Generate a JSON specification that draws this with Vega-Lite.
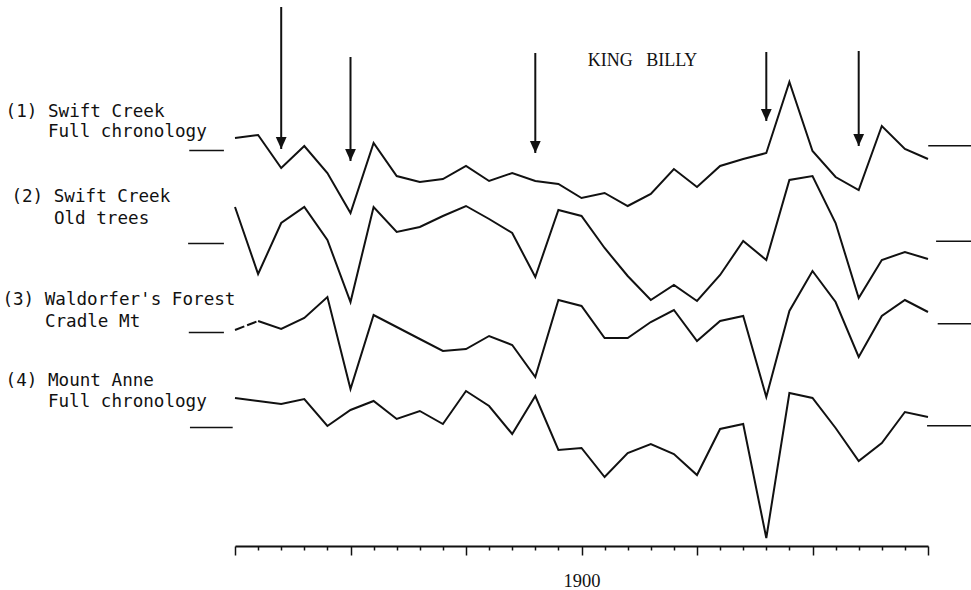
{
  "$schema": "https://vega.github.io/schema/vega-lite/v6.json",
  "width": 693,
  "height": 546,
  "autosize": {"type": "none"},
  "padding": {"left": 235, "top": 0, "right": 43, "bottom": 44},
  "background": "white",
  "config": {"view": {"stroke": null}, "text": {"font": "DejaVu Sans Mono", "fontSize": 17.6, "align": "left", "baseline": "alphabetic", "color": "#111"}},
  "datasets": {
    "one": [{}],
    "s1": [
      {"year": 1885, "index": 1.0625}, {"year": 1886, "index": 1.0775}, {"year": 1887, "index": 0.9125}, {"year": 1888, "index": 1.0225}, {"year": 1889, "index": 0.8875}, {"year": 1890, "index": 0.6875}, {"year": 1891, "index": 1.0375}, {"year": 1892, "index": 0.8725}, {"year": 1893, "index": 0.8425}, {"year": 1894, "index": 0.8575}, {"year": 1895, "index": 0.9225}, {"year": 1896, "index": 0.8475}, {"year": 1897, "index": 0.8875}, {"year": 1898, "index": 0.8475}, {"year": 1899, "index": 0.8325}, {"year": 1900, "index": 0.7625}, {"year": 1901, "index": 0.7875}, {"year": 1902, "index": 0.7225}, {"year": 1903, "index": 0.7825}, {"year": 1904, "index": 0.9075}, {"year": 1905, "index": 0.8175}, {"year": 1906, "index": 0.9225}, {"year": 1907, "index": 0.9575}, {"year": 1908, "index": 0.9875}, {"year": 1909, "index": 1.3425}, {"year": 1910, "index": 0.9975}, {"year": 1911, "index": 0.8675}, {"year": 1912, "index": 0.8025}, {"year": 1913, "index": 1.1225}, {"year": 1914, "index": 1.0075}, {"year": 1915, "index": 0.9575}
    ],
    "s2": [
      {"year": 1885, "index": 1.1825}, {"year": 1886, "index": 0.8475}, {"year": 1887, "index": 1.1025}, {"year": 1888, "index": 1.1825}, {"year": 1889, "index": 1.0175}, {"year": 1890, "index": 0.7075}, {"year": 1891, "index": 1.1825}, {"year": 1892, "index": 1.0575}, {"year": 1893, "index": 1.0825}, {"year": 1894, "index": 1.1375}, {"year": 1895, "index": 1.1875}, {"year": 1896, "index": 1.1225}, {"year": 1897, "index": 1.0525}, {"year": 1898, "index": 0.8325}, {"year": 1899, "index": 1.1675}, {"year": 1900, "index": 1.1375}, {"year": 1901, "index": 0.9775}, {"year": 1902, "index": 0.8375}, {"year": 1903, "index": 0.7175}, {"year": 1904, "index": 0.7925}, {"year": 1905, "index": 0.7125}, {"year": 1906, "index": 0.8425}, {"year": 1907, "index": 1.0125}, {"year": 1908, "index": 0.9175}, {"year": 1909, "index": 1.3175}, {"year": 1910, "index": 1.3375}, {"year": 1911, "index": 1.1025}, {"year": 1912, "index": 0.7275}, {"year": 1913, "index": 0.9175}, {"year": 1914, "index": 0.9575}, {"year": 1915, "index": 0.9225}
    ],
    "s3": [
      {"year": 1885, "index": 1.0125}, {"year": 1886, "index": 1.0575}, {"year": 1887, "index": 1.0175}, {"year": 1888, "index": 1.0725}, {"year": 1889, "index": 1.1775}, {"year": 1890, "index": 0.7175}, {"year": 1891, "index": 1.0875}, {"year": 1892, "index": 1.0275}, {"year": 1893, "index": 0.9675}, {"year": 1894, "index": 0.9075}, {"year": 1895, "index": 0.9175}, {"year": 1896, "index": 0.9825}, {"year": 1897, "index": 0.9375}, {"year": 1898, "index": 0.7775}, {"year": 1899, "index": 1.1625}, {"year": 1900, "index": 1.1325}, {"year": 1901, "index": 0.9725}, {"year": 1902, "index": 0.9725}, {"year": 1903, "index": 1.0525}, {"year": 1904, "index": 1.1125}, {"year": 1905, "index": 0.9575}, {"year": 1906, "index": 1.0575}, {"year": 1907, "index": 1.0825}, {"year": 1908, "index": 0.6775}, {"year": 1909, "index": 1.1075}, {"year": 1910, "index": 1.3075}, {"year": 1911, "index": 1.1525}, {"year": 1912, "index": 0.8775}, {"year": 1913, "index": 1.0825}, {"year": 1914, "index": 1.1625}, {"year": 1915, "index": 1.1025}
    ],
    "s4": [
      {"year": 1885, "index": 1.1475}, {"year": 1886, "index": 1.1325}, {"year": 1887, "index": 1.1175}, {"year": 1888, "index": 1.1425}, {"year": 1889, "index": 1.0075}, {"year": 1890, "index": 1.0875}, {"year": 1891, "index": 1.1325}, {"year": 1892, "index": 1.0425}, {"year": 1893, "index": 1.0825}, {"year": 1894, "index": 1.0175}, {"year": 1895, "index": 1.1825}, {"year": 1896, "index": 1.1075}, {"year": 1897, "index": 0.9675}, {"year": 1898, "index": 1.1575}, {"year": 1899, "index": 0.8875}, {"year": 1900, "index": 0.8975}, {"year": 1901, "index": 0.7525}, {"year": 1902, "index": 0.8725}, {"year": 1903, "index": 0.9175}, {"year": 1904, "index": 0.8675}, {"year": 1905, "index": 0.7625}, {"year": 1906, "index": 0.9925}, {"year": 1907, "index": 1.0175}, {"year": 1908, "index": 0.4475}, {"year": 1909, "index": 1.1725}, {"year": 1910, "index": 1.1475}, {"year": 1911, "index": 0.9975}, {"year": 1912, "index": 0.8325}, {"year": 1913, "index": 0.9225}, {"year": 1914, "index": 1.0775}, {"year": 1915, "index": 1.0525}
    ],
    "arrows": [
      {"year": 1887, "top": 1.7175, "tip": 1.0075},
      {"year": 1890, "top": 1.4675, "tip": 0.9475},
      {"year": 1898, "top": 1.4875, "tip": 0.9875},
      {"year": 1908, "top": 1.4925, "tip": 1.1475},
      {"year": 1912, "top": 1.4975, "tip": 1.0225}
    ]
  },
  "layer": [
    {
      "layer": [
        {
          "data": {"name": "s1"},
          "mark": {"type": "line", "color": "#111", "strokeWidth": 2},
          "encoding": {
            "x": {"field": "year", "type": "quantitative", "title": null,
              "scale": {"domain": [1885, 1915], "nice": false, "zero": false},
              "axis": {
                "values": [1885,1886,1887,1888,1889,1890,1891,1892,1893,1894,1895,1896,1897,1898,1899,1900,1901,1902,1903,1904,1905,1906,1907,1908,1909,1910,1911,1912,1913,1914,1915],
                "tickCount": 40,
                "grid": false, "title": null,
                "domainColor": "#111", "domainWidth": 2,
                "tickColor": "#111", "tickWidth": 1.5,
                "tickSize": {"condition": {"test": "datum.value % 5 === 0", "value": 9}, "value": 4},
                "labelExpr": "datum.value === 1900 ? '1900' : ''",
                "labelFont": "Liberation Serif", "labelFontSize": 18.5, "labelColor": "#111",
                "labelPadding": 16, "labelFlush": false, "labelOverlap": false
              }},
            "y": {"field": "index", "type": "quantitative", "axis": null,
              "scale": {"domain": [-0.9775, 1.7525], "nice": false, "zero": false}}
          }
        },
        {
          "data": {"name": "one"},
          "mark": {"type": "rule", "color": "#111", "strokeWidth": 1.5},
          "encoding": {"x": {"datum": 1883.02, "type": "quantitative"}, "x2": {"datum": 1884.52}, "y": {"datum": 1, "type": "quantitative"}}
        },
        {
          "data": {"name": "one"},
          "mark": {"type": "rule", "color": "#111", "strokeWidth": 1.5},
          "encoding": {"x": {"datum": 1915.01, "type": "quantitative"}, "x2": {"datum": 1916.9}, "y": {"datum": 1.024, "type": "quantitative"}}
        },
        {
          "data": {"name": "one"},
          "mark": {"type": "text"},
          "encoding": {"x": {"datum": 1875.07, "type": "quantitative"}, "y": {"datum": 1.169, "type": "quantitative"}, "text": {"value": "(1) Swift Creek"}}
        },
        {
          "data": {"name": "one"},
          "mark": {"type": "text"},
          "encoding": {"x": {"datum": 1876.9, "type": "quantitative"}, "y": {"datum": 1.066, "type": "quantitative"}, "text": {"value": "Full chronology"}}
        },
        {
          "data": {"name": "one"},
          "mark": {"type": "text", "align": "center", "font": "Liberation Serif", "fontSize": 18},
          "encoding": {"x": {"datum": 1902.64, "type": "quantitative"}, "y": {"datum": 1.424, "type": "quantitative"}, "text": {"value": "KING\u00a0\u00a0\u00a0BILLY"}}
        },
        {
          "data": {"name": "arrows"},
          "mark": {"type": "rule", "color": "#111", "strokeWidth": 2},
          "encoding": {"x": {"field": "year", "type": "quantitative", "title": null}, "y": {"field": "top", "type": "quantitative"}, "y2": {"field": "tip"}}
        },
        {
          "data": {"name": "arrows"},
          "mark": {"type": "point", "filled": true, "color": "#111", "opacity": 1, "size": 576, "strokeWidth": 0, "shape": "M-0.45,-1L0.45,-1L0,0Z"},
          "encoding": {"x": {"field": "year", "type": "quantitative", "title": null}, "y": {"field": "tip", "type": "quantitative"}}
        }
      ]
    },
    {
      "layer": [
        {
          "data": {"name": "s2"},
          "mark": {"type": "line", "color": "#111", "strokeWidth": 2},
          "encoding": {
            "x": {"field": "year", "type": "quantitative", "title": null},
            "y": {"field": "index", "type": "quantitative", "axis": null,
              "scale": {"domain": [-0.5125, 2.2175], "nice": false, "zero": false}}
          }
        },
        {
          "data": {"name": "one"},
          "mark": {"type": "rule", "color": "#111", "strokeWidth": 1.5},
          "encoding": {"x": {"datum": 1882.97, "type": "quantitative"}, "x2": {"datum": 1884.52}, "y": {"datum": 1, "type": "quantitative"}}
        },
        {
          "data": {"name": "one"},
          "mark": {"type": "rule", "color": "#111", "strokeWidth": 1.5},
          "encoding": {"x": {"datum": 1915.35, "type": "quantitative"}, "x2": {"datum": 1916.9}, "y": {"datum": 1.011, "type": "quantitative"}}
        },
        {
          "data": {"name": "one"},
          "mark": {"type": "text"},
          "encoding": {"x": {"datum": 1875.32, "type": "quantitative"}, "y": {"datum": 1.206, "type": "quantitative"}, "text": {"value": "(2) Swift Creek"}}
        },
        {
          "data": {"name": "one"},
          "mark": {"type": "text"},
          "encoding": {"x": {"datum": 1877.16, "type": "quantitative"}, "y": {"datum": 1.0975, "type": "quantitative"}, "text": {"value": "Old trees"}}
        }
      ]
    },
    {
      "layer": [
        {
          "data": {"name": "s3"},
          "transform": [{"filter": "datum.year >= 1886"}],
          "mark": {"type": "line", "color": "#111", "strokeWidth": 2},
          "encoding": {
            "x": {"field": "year", "type": "quantitative", "title": null},
            "y": {"field": "index", "type": "quantitative", "axis": null,
              "scale": {"domain": [-0.0675, 2.6625], "nice": false, "zero": false}}
          }
        },
        {
          "data": {"name": "s3"},
          "transform": [{"filter": "datum.year <= 1886"}],
          "mark": {"type": "line", "color": "#111", "strokeWidth": 2, "strokeDash": [10, 3]},
          "encoding": {
            "x": {"field": "year", "type": "quantitative", "title": null},
            "y": {"field": "index", "type": "quantitative"}
          }
        },
        {
          "data": {"name": "one"},
          "mark": {"type": "rule", "color": "#111", "strokeWidth": 1.5},
          "encoding": {"x": {"datum": 1883.0, "type": "quantitative"}, "x2": {"datum": 1884.52}, "y": {"datum": 1, "type": "quantitative"}}
        },
        {
          "data": {"name": "one"},
          "mark": {"type": "rule", "color": "#111", "strokeWidth": 1.5},
          "encoding": {"x": {"datum": 1915.42, "type": "quantitative"}, "x2": {"datum": 1916.9}, "y": {"datum": 1.044, "type": "quantitative"}}
        },
        {
          "data": {"name": "one"},
          "mark": {"type": "text"},
          "encoding": {"x": {"datum": 1874.93, "type": "quantitative"}, "y": {"datum": 1.1375, "type": "quantitative"}, "text": {"value": "(3) Waldorfer's Forest"}}
        },
        {
          "data": {"name": "one"},
          "mark": {"type": "text"},
          "encoding": {"x": {"datum": 1876.77, "type": "quantitative"}, "y": {"datum": 1.029, "type": "quantitative"}, "text": {"value": "Cradle Mt"}}
        }
      ]
    },
    {
      "layer": [
        {
          "data": {"name": "s4"},
          "mark": {"type": "line", "color": "#111", "strokeWidth": 2},
          "encoding": {
            "x": {"field": "year", "type": "quantitative", "title": null},
            "y": {"field": "index", "type": "quantitative", "axis": null,
              "scale": {"domain": [0.4075, 3.1375], "nice": false, "zero": false}}
          }
        },
        {
          "data": {"name": "one"},
          "mark": {"type": "rule", "color": "#111", "strokeWidth": 1.5},
          "encoding": {"x": {"datum": 1883.05, "type": "quantitative"}, "x2": {"datum": 1884.9}, "y": {"datum": 1, "type": "quantitative"}}
        },
        {
          "data": {"name": "one"},
          "mark": {"type": "rule", "color": "#111", "strokeWidth": 1.5},
          "encoding": {"x": {"datum": 1914.96, "type": "quantitative"}, "x2": {"datum": 1916.9}, "y": {"datum": 1.009, "type": "quantitative"}}
        },
        {
          "data": {"name": "one"},
          "mark": {"type": "text"},
          "encoding": {"x": {"datum": 1875.07, "type": "quantitative"}, "y": {"datum": 1.2075, "type": "quantitative"}, "text": {"value": "(4) Mount Anne"}}
        },
        {
          "data": {"name": "one"},
          "mark": {"type": "text"},
          "encoding": {"x": {"datum": 1876.9, "type": "quantitative"}, "y": {"datum": 1.101, "type": "quantitative"}, "text": {"value": "Full chronology"}}
        }
      ]
    }
  ],
  "resolve": {"scale": {"y": "independent"}, "axis": {"y": "independent"}}
}
